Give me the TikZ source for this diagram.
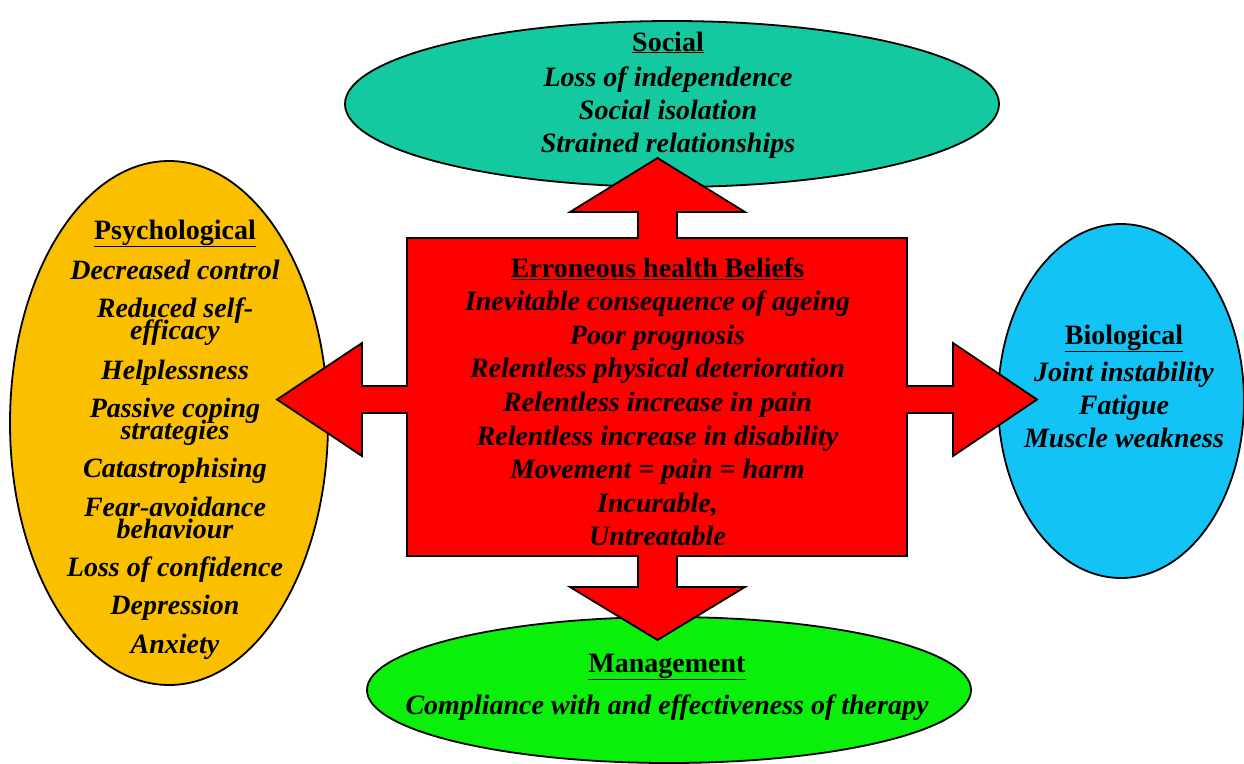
\documentclass[tikz,border=0pt]{standalone}
\usepackage{fontspec}
\setmainfont{Liberation Serif}
\usetikzlibrary{shapes.geometric}
\definecolor{socialc}{RGB}{20,200,160}
\definecolor{psychc}{RGB}{250,192,0}
\definecolor{bioc}{RGB}{20,195,245}
\definecolor{mgmtc}{RGB}{10,240,10}
\definecolor{redc}{RGB}{255,0,0}
\newcommand\twoline[2]{\vtop{\baselineskip=22pt\lineskiplimit=-50pt\halign{\hfil##\hfil\cr #1\cr #2\cr}}}
\begin{document}
\begin{tikzpicture}[x=1pt,y=-1pt,
  blob/.style={ellipse, draw=black, line width=1.8pt, inner sep=0pt},
  item/.style={anchor=base, inner sep=0pt, font=\fontsize{28}{22}\selectfont\bfseries\itshape},
  head/.style={anchor=base, inner sep=0pt, font=\fontsize{28}{28}\selectfont\bfseries}]
\useasboundingbox (0,0) rectangle (1244,763);
\fill[white] (0,0) rectangle (1244,763);

% ellipses
\node[blob, fill=socialc, minimum width=654pt, minimum height=166pt] (social) at (672,104) {};
\node[blob, fill=psychc, minimum width=318pt, minimum height=524pt] (psych) at (169,423) {};
\node[blob, fill=bioc, minimum width=246pt, minimum height=354pt] (bio) at (1121,401) {};
\node[blob, fill=mgmtc, minimum width=604pt, minimum height=146pt] (mgmt) at (669,690) {};

% central box with four arrows
\draw[fill=redc, line width=1.8pt, line join=miter]
  (407,238) -- (638,238) -- (638,212) -- (570,212) -- (657.5,158) -- (745,212) -- (677,212) -- (677,238)
  -- (907,238) -- (907,386) -- (953,386) -- (953,343) -- (1037,399.5) -- (953,456) -- (953,413) -- (907,413)
  -- (907,556) -- (677,556) -- (677,587) -- (745,587) -- (657.5,640) -- (570,587) -- (638,587) -- (638,556)
  -- (407,556) -- (407,413) -- (362,413) -- (362,456) -- (277,399.5) -- (362,343) -- (362,386) -- (407,386) -- cycle;

% Social
\node[head] (socT) at (668,51) {\underline{Social}};
\foreach \t [count=\i from 0] in {Loss of independence, Social isolation, Strained relationships}
  \node[item] (soc\i) at (668,86+33*\i) {\t};

% Centre
\node[head] (cenT) at (657.5,277) {\underline{Erroneous health Beliefs}};
\foreach \t [count=\i from 1] in {Inevitable consequence of ageing, Poor prognosis, Relentless physical deterioration, Relentless increase in pain, Relentless increase in disability, Movement = pain = harm, {Incurable,}, Untreatable}
  \node[item] (cen\i) at (657.5,277+33.6*\i) {\t};

% Psychological
\node[head] (psyT) at (175,239) {\underline{Psychological}};
\node[item] (psy1) at (175,279) {Decreased control};
\node[item] (psy2) at (175,317) {\twoline{Reduced self-}{efficacy}};
\node[item] (psy3) at (175,379) {Helplessness};
\node[item] (psy4) at (175,417) {\twoline{Passive coping}{strategies}};
\node[item] (psy5) at (175,477) {Catastrophising};
\node[item] (psy6) at (175,516) {\twoline{Fear-avoidance}{behaviour}};
\node[item] (psy7) at (175,576) {Loss of confidence};
\node[item] (psy8) at (175,614) {Depression};
\node[item] (psy9) at (175,653) {Anxiety};

% Biological
\node[head] (bioT) at (1124,344) {\underline{Biological}};
\foreach \t/\y [count=\i] in {Joint instability/381, Fatigue/414, Muscle weakness/447}
  \node[item] (bio\i) at (1124,\y) {\t};

% Management
\node[head] (mgtT) at (667,672) {\underline{Management}};
\node[item] (mgt1) at (667,714) {Compliance with and effectiveness of therapy};
\end{tikzpicture}
\end{document}
